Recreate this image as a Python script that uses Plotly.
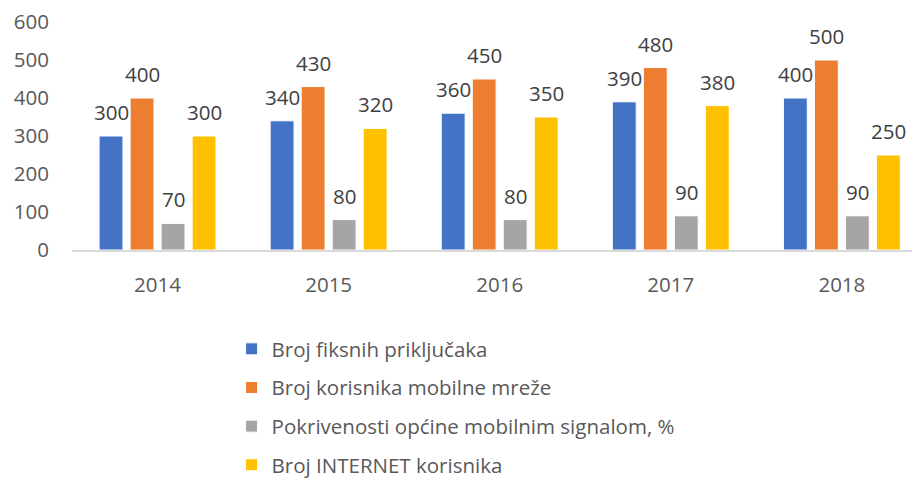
import plotly.graph_objects as go

years = ["2014", "2015", "2016", "2017", "2018"]
series_names = [
    "Broj fiksnih priključaka",
    "Broj korisnika mobilne mreže",
    "Pokrivenosti općine mobilnim signalom, %",
    "Broj INTERNET korisnika",
]
fiksni = [300, 340, 360, 390, 400]
mobilni = [400, 430, 450, 480, 500]
pokrivenost = [70, 80, 80, 90, 90]
internet = [300, 320, 350, 380, 250]
colors = ["#4472C4", "#ED7D31", "#A5A5A5", "#FFC000"]

FONT = "Open Sans"
FS = 20.5
W, H = 912, 481
ML, MR, MT, MB = 72, 0, 22, 231
BARGAP = 0.275
XRANGE = [-0.5, 4.41]
cat_px = (W - ML - MR) / (XRANGE[1] - XRANGE[0])
slot_px = cat_px * (1 - BARGAP) / len(series_names)

fig = go.Figure()
all_vals = [fiksni, mobilni, pokrivenost, internet]
for i, (name, vals) in enumerate(zip(series_names, all_vals)):
    fig.add_trace(go.Bar(
        x=years, y=vals, name=name,
        marker=dict(color=colors[i], line=dict(color="white", width=1)),
        legendgroup=f"g{i}",
    ))
    for j, v in enumerate(vals):
        fig.add_annotation(
            x=j, y=v, text=str(v), showarrow=False,
            xref="x", yref="y", yanchor="bottom",
            xshift=(i - (len(series_names) - 1) / 2) * slot_px, yshift=8,
            font=dict(family=FONT, size=FS, color="#404040"),
        )

fig.update_layout(
    width=W, height=H,
    margin=dict(l=ML, r=MR, t=MT, b=MB, autoexpand=False),
    paper_bgcolor="white", plot_bgcolor="white",
    barmode="group", bargap=BARGAP, bargroupgap=0.23,
    font=dict(family=FONT, size=FS, color="#595959"),
    showlegend=True,
    legend=dict(orientation="v", x=0.19, y=0.316, xref="paper", yref="container",
                xanchor="left", yanchor="top",
                font=dict(family=FONT, size=FS, color="#595959"),
                tracegroupgap=9, traceorder="grouped"),
    xaxis=dict(type="category", range=XRANGE, showline=True, linecolor="#D9D9D9",
               linewidth=1.5, ticks="", showgrid=False, zeroline=False, automargin=False,
               ticklabelstandoff=16,
               tickfont=dict(family=FONT, size=FS, color="#595959")),
    yaxis=dict(range=[0, 600], dtick=100, showgrid=False, zeroline=False, showline=False,
               ticks="", ticklabelstandoff=22, automargin=False,
               tickfont=dict(family=FONT, size=FS, color="#595959")),
)

fig.write_html("out.html", config={"displayModeBar": False},
               post_script="document.body.style.margin='0';document.body.style.overflow='hidden';")
